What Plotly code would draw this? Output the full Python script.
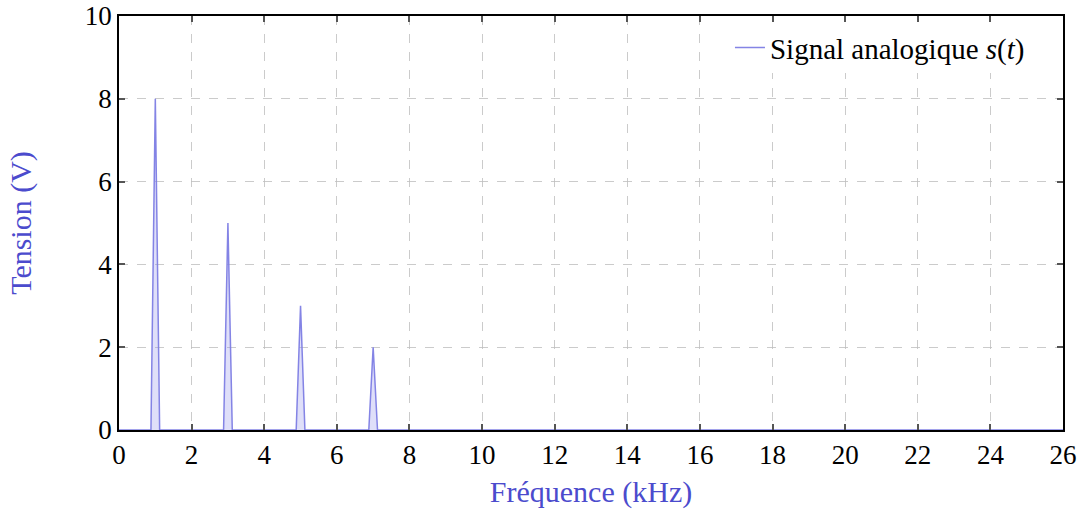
import plotly.graph_objects as go

# Spectrum: frequency (kHz) and amplitude (V)
freq_khz = [0, 0.88, 1, 1.12, 2.88, 3, 3.12, 4.88, 5, 5.12, 6.88, 7, 7.12, 26]
tension_v = [0, 0, 8, 0, 0, 5, 0, 0, 3, 0, 0, 2, 0, 0]

x_ticks = list(range(0, 27, 2))
y_ticks = list(range(0, 11, 2))

font_family = "Liberation Serif, DejaVu Serif, serif"
blue_title = "rgb(75,75,205)"
line_color = "rgba(125,125,228,0.95)"

fig = go.Figure()
fig.add_trace(go.Scatter(
    x=freq_khz, y=tension_v, mode="lines",
    line=dict(color=line_color, width=1.5),
    fill="tozeroy", fillcolor="rgba(150,150,235,0.3)",
    name="Signal analogique <i>s</i>(<i>t</i>)", showlegend=False,
))
# legend entry (line only)
fig.add_trace(go.Scatter(
    x=[None], y=[None], mode="lines",
    line=dict(color=line_color, width=1.5),
    name="Signal analogique <i>s</i>(<i>t</i>)", showlegend=True,
))

axis_common = dict(
    showline=True, linecolor="black", linewidth=1.5, mirror="ticks",
    ticks="inside", ticklen=6, tickcolor="#555", tickwidth=1.5,
    showgrid=True, gridcolor="rgba(190,190,190,0.8)", griddash="dash", gridwidth=1,
    zeroline=False, automargin=False,
    tickfont=dict(family=font_family, size=27, color="black"),
)

fig.update_layout(
    width=1086, height=514,
    margin=dict(l=119, r=23, t=16, b=84),
    paper_bgcolor="white", plot_bgcolor="white",
    font=dict(family=font_family),
    xaxis=dict(range=[0, 26], tickvals=x_ticks, ticktext=[str(v) for v in x_ticks],
               title=dict(text="Fréquence (kHz)", font=dict(size=30, color=blue_title), standoff=12),
               **axis_common),
    yaxis=dict(range=[0, 10], tickvals=y_ticks, ticktext=[str(v) for v in y_ticks],
               title=dict(text="Tension (V)", font=dict(size=30, color=blue_title), standoff=44),
               **axis_common),
    showlegend=True,
    legend=dict(x=0.965, y=0.985, xanchor="right", yanchor="top",
                bgcolor="white", borderwidth=0,
                font=dict(family=font_family, size=29, color="black")),
)

fig.write_html("out.html", config={"displayModeBar": False},
               post_script="document.body.style.margin='0';")
